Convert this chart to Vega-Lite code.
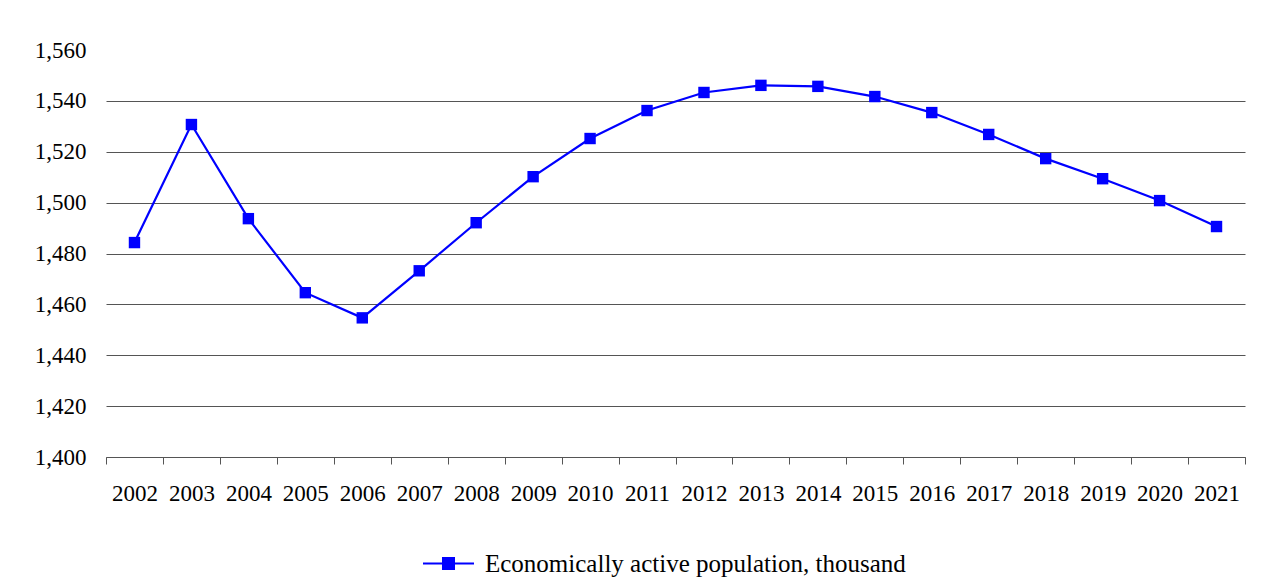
{
  "$schema": "https://vega.github.io/schema/vega-lite/v6.json",
  "autosize": "none",
  "padding": {"left": 106, "top": 50, "right": 16, "bottom": 129},
  "width": 1139,
  "height": 407,
  "background": "white",
  "config": {
    "view": {"stroke": null},
    "font": "Liberation Serif",
    "axis": {"labelFont": "Liberation Serif", "labelColor": "#000000"},
    "legend": {"labelFont": "Liberation Serif"}
  },
  "data": {
    "values": [
      {"year": "2002", "value": 1484.3, "series": "Economically active population, thousand"},
      {"year": "2003", "value": 1530.7, "series": "Economically active population, thousand"},
      {"year": "2004", "value": 1493.7, "series": "Economically active population, thousand"},
      {"year": "2005", "value": 1464.6, "series": "Economically active population, thousand"},
      {"year": "2006", "value": 1454.7, "series": "Economically active population, thousand"},
      {"year": "2007", "value": 1473.2, "series": "Economically active population, thousand"},
      {"year": "2008", "value": 1492.1, "series": "Economically active population, thousand"},
      {"year": "2009", "value": 1510.2, "series": "Economically active population, thousand"},
      {"year": "2010", "value": 1525.2, "series": "Economically active population, thousand"},
      {"year": "2011", "value": 1536.2, "series": "Economically active population, thousand"},
      {"year": "2012", "value": 1543.3, "series": "Economically active population, thousand"},
      {"year": "2013", "value": 1546.1, "series": "Economically active population, thousand"},
      {"year": "2014", "value": 1545.7, "series": "Economically active population, thousand"},
      {"year": "2015", "value": 1541.7, "series": "Economically active population, thousand"},
      {"year": "2016", "value": 1535.4, "series": "Economically active population, thousand"},
      {"year": "2017", "value": 1526.8, "series": "Economically active population, thousand"},
      {"year": "2018", "value": 1517.3, "series": "Economically active population, thousand"},
      {"year": "2019", "value": 1509.4, "series": "Economically active population, thousand"},
      {"year": "2020", "value": 1500.8, "series": "Economically active population, thousand"},
      {"year": "2021", "value": 1490.6, "series": "Economically active population, thousand"}
    ]
  },
  "encoding": {
    "x": {
      "field": "year",
      "type": "ordinal",
      "scale": {"type": "band", "paddingInner": 0, "paddingOuter": 0},
      "axis": {
        "title": null,
        "labelAngle": 0,
        "labelFontSize": 23,
        "labelPadding": 18,
        "tickBand": "extent",
        "tickSize": 7,
        "tickColor": "#555555",
        "domainColor": "#555555",
        "grid": false
      }
    },
    "y": {
      "field": "value",
      "type": "quantitative",
      "scale": {"domain": [1400, 1560], "nice": false, "zero": false},
      "axis": {
        "title": null,
        "values": [1400, 1420, 1440, 1460, 1480, 1500, 1520, 1540, 1560],
        "format": ",.0f",
        "labelFontSize": 23,
        "labelPadding": 20,
        "ticks": false,
        "domain": false,
        "grid": true,
        "gridColor": "#555555",
        "gridOpacity": {"condition": {"test": "datum.value == 1560", "value": 0}, "value": 1}
      }
    },
    "color": {
      "field": "series",
      "type": "nominal",
      "scale": {"range": ["#0000ff"]},
      "legend": {
        "title": null,
        "orient": "none",
        "legendX": 316,
        "legendY": 487,
        "labelFontSize": 25,
        "labelLimit": 0,
        "labelColor": "#000000",
        "symbolType": "M-1,0H1M-0.216,-0.216H0.216V0.216H-0.216Z",
        "symbolSize": 2601,
        "symbolStrokeWidth": 2,
        "symbolFillColor": "#0000ff",
        "symbolStrokeColor": "#0000ff",
        "labelOffset": 10
      }
    }
  },
  "layer": [
    {"mark": {"type": "line", "strokeWidth": 2.2}},
    {"mark": {"type": "point", "shape": "square", "filled": true, "size": 130, "opacity": 1}}
  ]
}
